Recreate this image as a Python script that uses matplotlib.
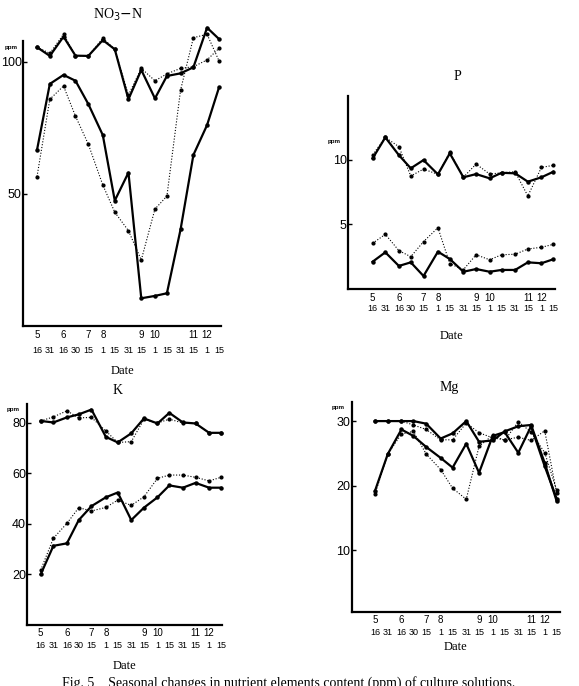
# Fig. 5 -- seasonal changes of nutrient elements in culture solutions
import matplotlib
matplotlib.use("Agg")

import matplotlib.pyplot as plt
import pandas as pd


# ========= data =========
SAMPLE_DATES = [(5, 16), (5, 31), (6, 16), (6, 30), (7, 15), (8, 1), (8, 15), (8, 31),
                (9, 15), (10, 1), (10, 15), (10, 31), (11, 15), (12, 1), (12, 15)]
DAY_LABELS = ["16", "31", "16", "30", "15", "1", "15", "31", "15", "1", "15", "31", "15", "1", "15"]
MONTH_LABELS = {0: "5", 2: "6", 4: "7", 5: "8", 8: "9", 9: "10", 12: "11", 13: "12"}

no3_up_solid = [105.6, 102.3, 109.6, 102.4, 102.3, 108.3, 104.8, 85.9, 97.0, 86.2, 94.7, 95.7, 98.0, 113.0, 108.7]
no3_up_dot = [105.6, 103.3, 110.5, 102.4, 102.3, 109.0, 104.8, 87.5, 97.6, 92.9, 95.5, 97.6, 98.2, 100.8, 105.2]
no3_lo_solid = [66.7, 91.7, 95.1, 92.9, 84.1, 72.3, 47.5, 58.1, 10.5, 11.4, 12.4, 36.6, 64.8, 76.1, 90.4]
no3_lo_dot = [56.6, 85.9, 90.9, 79.5, 68.9, 53.4, 43.1, 36.1, 25.0, 44.3, 49.2, 89.4, 109.2, 110.5, 100.4]

p_up_solid = [10.12, 11.75, 10.37, 9.35, 9.99, 8.88, 10.51, 8.65, 8.90, 8.57, 9.00, 8.96, 8.31, 8.65, 9.08]
p_up_dot = [10.39, 11.75, 11.03, 8.75, 9.29, 8.88, 10.60, 8.65, 9.68, 8.90, 9.00, 9.08, 7.20, 9.42, 9.58]
p_lo_solid = [2.09, 2.82, 1.76, 2.04, 0.98, 2.87, 2.30, 1.31, 1.52, 1.31, 1.45, 1.45, 2.04, 1.97, 2.28]
p_lo_dot = [3.52, 4.22, 2.95, 2.48, 3.65, 4.73, 1.94, 1.47, 2.63, 2.24, 2.63, 2.67, 3.08, 3.21, 3.44]

k_up_solid = [80.7, 80.1, 82.1, 83.3, 85.2, 74.4, 72.2, 75.8, 81.7, 79.7, 83.9, 80.1, 79.7, 76.0, 76.0]
k_up_dot = [80.7, 82.3, 84.7, 81.9, 82.1, 76.7, 72.2, 72.5, 81.3, 79.9, 81.4, 79.9, 79.7, 76.0, 76.0]
k_lo_solid = [20.0, 31.3, 32.3, 41.5, 47.0, 50.5, 52.4, 41.5, 46.4, 50.5, 55.2, 54.3, 56.2, 54.3, 54.3]
k_lo_dot = [21.7, 34.3, 40.2, 46.4, 45.1, 46.5, 49.4, 47.3, 50.7, 58.0, 59.3, 59.3, 58.4, 57.0, 58.4]

mg_up_solid = [30.0, 30.0, 30.0, 30.0, 29.6, 27.3, 28.1, 30.0, 26.8, 27.0, 28.4, 29.2, 29.4, 23.5, 17.6]
mg_up_dot = [30.0, 30.0, 30.0, 29.4, 28.7, 27.1, 27.1, 29.7, 28.2, 27.4, 27.1, 27.5, 27.0, 28.5, 18.8]
mg_lo_solid = [19.2, 24.9, 28.7, 27.7, 26.0, 24.3, 22.8, 26.5, 22.0, 27.7, 28.3, 25.1, 29.2, 23.0, 18.0]
mg_lo_dot = [18.7, 24.9, 28.0, 28.4, 24.9, 22.5, 19.6, 17.9, 26.1, 27.8, 27.0, 29.9, 28.3, 25.1, 19.3]


# ========= figure =========
W, H = 579, 686
fig = plt.figure(figsize=(W / 100, H / 100), dpi=100)

SERIF = ["Liberation Serif", "DejaVu Serif"]
NUM = ["Liberation Sans Narrow", "Liberation Sans", "DejaVu Sans"]

start = pd.Timestamp(2001, *SAMPLE_DATES[0])
days = [(pd.Timestamp(2001, m, d) - start).days for m, d in SAMPLE_DATES]


def px_axes(left, top, right, bottom):
    return fig.add_axes([left / W, 1 - bottom / H, (right - left) / W, (bottom - top) / H])


def panel(rect, title, title_xy, series, ylim, yticks, xlim, offs, ppm_xy, spine_top=None):
    ax = px_axes(*rect)
    up_s, up_d, lo_s, lo_d = series
    for ys in (up_d, lo_d):
        ax.plot(days, ys, color="black", lw=0.8, ls=(0, (1, 1.6)),
                marker="o", ms=2.0, clip_on=False)
    for ys in (up_s, lo_s):
        ax.plot(days, ys, color="black", lw=1.6, ls="-",
                marker="o", ms=2.2, clip_on=False)

    ax.set_xlim(*xlim)
    ax.set_ylim(*ylim)
    for s in ("top", "right"):
        ax.spines[s].set_visible(False)
    for s in ("left", "bottom"):
        ax.spines[s].set_linewidth(1.6)
    if spine_top is not None:
        ax.spines["left"].set_bounds(ylim[0], spine_top)

    ax.set_xticks([])
    ax.set_yticks(yticks)
    ax.set_yticklabels([str(t) for t in yticks], family=NUM, fontsize=9)
    ax.tick_params(axis="y", direction="in", length=3, width=1, pad=1)

    # two-row date labels
    m_off, d_off, date_off = offs
    for i, x in enumerate(days):
        ax.annotate(DAY_LABELS[i], (x, 0), xycoords=("data", "axes fraction"),
                    xytext=(0, -d_off), textcoords="offset pixels",
                    ha="center", va="center", fontsize=6.5, family=NUM)
        if i in MONTH_LABELS:
            ax.annotate(MONTH_LABELS[i], (x, 0), xycoords=("data", "axes fraction"),
                        xytext=(0, -m_off), textcoords="offset pixels",
                        ha="center", va="center", fontsize=7, family=NUM)
    ax.annotate("Date", (0.5, 0), xycoords="axes fraction",
                xytext=(0, -date_off), textcoords="offset pixels",
                ha="center", va="center", fontsize=9, family=SERIF)

    fig.text(title_xy[0] / W, 1 - title_xy[1] / H, title, ha="center", va="center",
             fontsize=10, family=SERIF)
    fig.text(ppm_xy[0] / W, 1 - ppm_xy[1] / H, "ppm", ha="center", va="center",
             fontsize=4.5, family=NUM, weight="bold")
    return ax


# NO3-N
panel((23, 22.4, 221, 326), "NO$_3$$-$N", (118, 15),
      (no3_up_solid, no3_up_dot, no3_lo_solid, no3_lo_dot),
      (0, 115), [50, 100], (-16.4, 215.3), (9, 24, 45), (11, 48), spine_top=108)

# P
panel((348, 95.6, 555, 288.6), "P", (457, 76),
      (p_up_solid, p_up_dot, p_lo_solid, p_lo_dot),
      (0, 15), [5, 10], (-29, 215), (9, 20, 47), (334, 141))

# K
panel((27.3, 404, 222, 625), "K", (118, 390),
      (k_up_solid, k_up_dot, k_lo_solid, k_lo_dot),
      (0, 87.4), [20, 40, 60, 80], (-15.8, 214.2), (8, 20, 41), (13, 409))

# Mg
panel((351.7, 401.7, 560, 611.7), "Mg", (449, 388),
      (mg_up_solid, mg_up_dot, mg_lo_solid, mg_lo_dot),
      (0.5, 33), [10, 20, 30], (-27.3, 216.9), (8, 21, 35), (338, 408))

fig.text(62 / W, 1 - 676 / H,
         "Fig. 5    Seasonal changes in nutrient elements content (ppm) of culture solutions.",
         ha="left", va="top", fontsize=10, family=SERIF)

fig.savefig("out.png", dpi=100)
